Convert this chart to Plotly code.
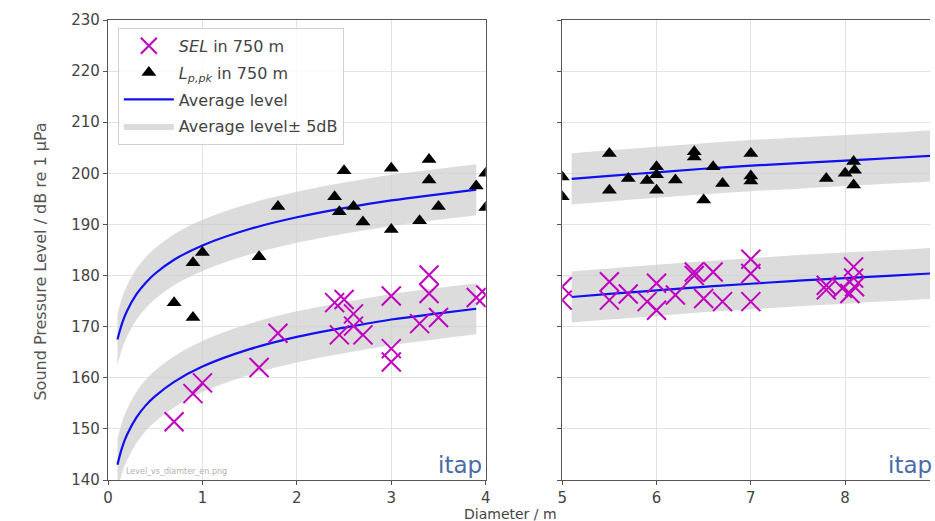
import plotly.graph_objects as go

# ---------------- data ----------------
# left panel (diameter 0..4 m)
sel_x_left = [0.7, 0.9, 1.0, 1.6, 1.8, 2.4, 2.5, 2.45, 2.6, 2.6, 2.7, 3.0, 3.0, 3.0, 3.4, 3.4, 3.3, 3.5, 3.9, 4.0]
sel_y_left = [151.4, 156.9, 159.0, 162.0, 168.7, 174.7, 175.3, 168.4, 172.5, 170.1, 168.4, 176.0, 165.7, 163.1,
              180.1, 176.5, 170.6, 171.8, 175.7, 176.2]
lpk_x_left = [0.7, 0.9, 0.9, 1.0, 1.6, 1.8, 2.4, 2.45, 2.5, 2.6, 2.7, 3.0, 3.0, 3.3, 3.4, 3.4, 3.5, 3.9, 4.0, 4.0]
lpk_y_left = [174.7, 171.8, 182.5, 184.5, 183.7, 193.5, 195.4, 192.5, 200.5, 193.5, 190.5, 201.0, 189.0, 190.7,
              202.7, 198.7, 193.5, 197.5, 200.0, 193.3]

# right panel (diameter 5..9 m)
sel_x_right = [5.0, 5.0, 5.5, 5.5, 5.7, 6.0, 5.9, 6.0, 6.2, 6.4, 6.4, 6.6, 6.5, 6.7,
               7.0, 7.0, 7.0, 7.8, 7.8, 7.97, 8.09, 8.09, 8.1, 8.05]
sel_y_right = [177.8, 175.2, 178.8, 175.2, 176.4, 178.5, 174.9, 173.2, 176.2, 180.7, 180.0, 180.7, 175.5, 174.9,
               183.2, 180.4, 174.9, 178.1, 177.2, 177.5, 181.7, 179.5, 177.8, 176.5]
lpk_x_right = [5.0, 5.0, 5.5, 5.5, 5.7, 5.9, 6.0, 6.0, 6.0, 6.2, 6.4, 6.4, 6.6, 6.5, 6.7,
               7.0, 7.0, 7.0, 7.8, 8.0, 8.09, 8.1, 8.09]
lpk_y_right = [199.3, 195.4, 203.9, 196.7, 199.0, 198.6, 201.3, 199.7, 196.7, 198.7, 204.2, 203.2, 201.3, 194.8, 198.0,
               203.9, 199.5, 198.5, 199.0, 200.0, 202.3, 200.6, 197.7]

# average level curves
avg_d_left = [0.1, 0.15, 0.2, 0.3, 0.4, 0.5, 0.7, 1.0, 1.5, 2.0, 2.5, 3.0, 3.5, 3.9]
avg_lpk_left = [167.5, 170.7, 173.0, 176.3, 178.6, 180.4, 183.1, 185.9, 189.1, 191.4, 193.2, 194.7, 195.9, 196.8]
avg_sel_left = [143.0, 146.4, 148.8, 152.2, 154.6, 156.4, 159.2, 162.2, 165.6, 168.0, 169.8, 171.4, 172.6, 173.5]
avg_d_right = [5.1, 5.5, 6.0, 6.5, 7.0, 7.5, 8.0, 8.5, 9.0]
avg_lpk_right = [198.9, 199.5, 200.2, 200.9, 201.5, 202.0, 202.5, 203.0, 203.5]
avg_sel_right = [175.8, 176.4, 177.1, 177.8, 178.4, 179.0, 179.5, 180.0, 180.5]
band_db = 5

y_ticks = list(range(140, 231, 10))

# ---------------- styling ----------------
MAG = "#c000c0"
BLUE = "#1010f0"
BAND = "rgba(205,205,205,0.7)"
FONT = "DejaVu Sans"
TXT = "#444444"

fig = go.Figure()

panels = [
    ("x", "y", avg_d_left, avg_lpk_left, avg_sel_left, sel_x_left, sel_y_left, lpk_x_left, lpk_y_left, True),
    ("x2", "y2", avg_d_right, avg_lpk_right, avg_sel_right, sel_x_right, sel_y_right, lpk_x_right, lpk_y_right, False),
]

for xa, ya, d, lpk, sel, sx, sy, lx, ly, first in panels:
    for k, curve in enumerate([lpk, sel]):
        show = first and k == 0
        fig.add_trace(go.Scatter(x=d, y=[v + band_db for v in curve], xaxis=xa, yaxis=ya, mode="lines",
                                 line=dict(width=0, shape="spline"), showlegend=False, hoverinfo="skip",
                                 legendgroup="band"))
        fig.add_trace(go.Scatter(x=d, y=[v - band_db for v in curve], xaxis=xa, yaxis=ya, mode="lines",
                                 line=dict(width=0, shape="spline"), fill="tonexty", fillcolor=BAND,
                                 name="Average level± 5dB", showlegend=show, legendgroup="band", legendrank=4))
    for k, curve in enumerate([lpk, sel]):
        fig.add_trace(go.Scatter(x=d, y=curve, xaxis=xa, yaxis=ya, mode="lines",
                                 line=dict(color=BLUE, width=2.2, shape="spline"),
                                 name="Average level", showlegend=first and k == 0, legendgroup="avg", legendrank=3))
    fig.add_trace(go.Scatter(x=lx, y=ly, xaxis=xa, yaxis=ya, mode="markers",
                             marker=dict(symbol="triangle-up", size=13, color="black"),
                             name="<i>L</i><sub><i>p,pk</i></sub> in 750 m", showlegend=first,
                             legendgroup="lpk", legendrank=2))
    fig.add_trace(go.Scatter(x=sx, y=sy, xaxis=xa, yaxis=ya, mode="markers",
                             marker=dict(symbol="x-thin", size=19, color=MAG, line=dict(color=MAG, width=2)),
                             name="<i>SEL</i> in 750 m", showlegend=first, legendgroup="sel", legendrank=1))

axis_common = dict(showgrid=True, gridcolor="#e3e3e3", gridwidth=1, showline=True, linecolor="#555555",
                   linewidth=1.3, ticks="outside", ticklen=4, tickcolor="#555555", zeroline=False,
                   tickfont=dict(family=FONT, size=15, color=TXT))

fig.update_layout(
    width=935, height=521,
    margin=dict(l=108, r=0, t=20, b=41),
    plot_bgcolor="white", paper_bgcolor="white",
    xaxis=dict(domain=[0, 0.4595], range=[0, 4], tickvals=[0, 1, 2, 3, 4], mirror=True, anchor="y", **axis_common),
    yaxis=dict(range=[140, 230], tickvals=y_ticks, mirror=True, anchor="x", **axis_common),
    xaxis2=dict(domain=[0.5526, 1], range=[5, 8.9], tickvals=[5, 6, 7, 8], mirror=True, anchor="y2", **axis_common),
    yaxis2=dict(range=[140, 230], tickvals=y_ticks, showticklabels=False, anchor="x2", **axis_common),
    legend=dict(x=0.012, y=0.983, xanchor="left", yanchor="top", bgcolor="rgba(255,255,255,0.85)",
                bordercolor="#d0d0d0", borderwidth=1, font=dict(family=FONT, size=16, color=TXT),
                tracegroupgap=3, itemwidth=50),
    showlegend=True,
)

fig.add_annotation(text="Sound Pressure Level / dB re 1 µPa", xref="paper", yref="paper", x=-0.082, y=0.474,
                   xanchor="center", yanchor="middle",
                   textangle=-90, showarrow=False, font=dict(family=FONT, size=16, color="#555555"))
fig.add_annotation(text="Diameter / m", xref="paper", yref="paper", x=0.4897, y=-0.074, yanchor="middle",
                   xanchor="center", showarrow=False, font=dict(family=FONT, size=14, color=TXT))
fig.add_annotation(text="itap", xref="paper", yref="paper", x=0.457, y=0.0, xanchor="right", yanchor="bottom",
                   showarrow=False, font=dict(family=FONT, size=23, color="#4a6aa8"))
fig.add_annotation(text="itap", xref="paper", yref="paper", x=0.946, y=0.0, xanchor="left", yanchor="bottom",
                   showarrow=False, font=dict(family=FONT, size=23, color="#4a6aa8"))
fig.add_annotation(text="Level_vs_diamter_en.png", xref="paper", yref="paper", x=0.02, y=0.005,
                   xanchor="left", yanchor="bottom", showarrow=False,
                   font=dict(family=FONT, size=8, color="#b0b0b0"))

# remove the default page margin so the 935x521 figure fills the window exactly
fig.write_html("out.html", config={"displayModeBar": False},
               post_script="document.body.style.margin='0';")
